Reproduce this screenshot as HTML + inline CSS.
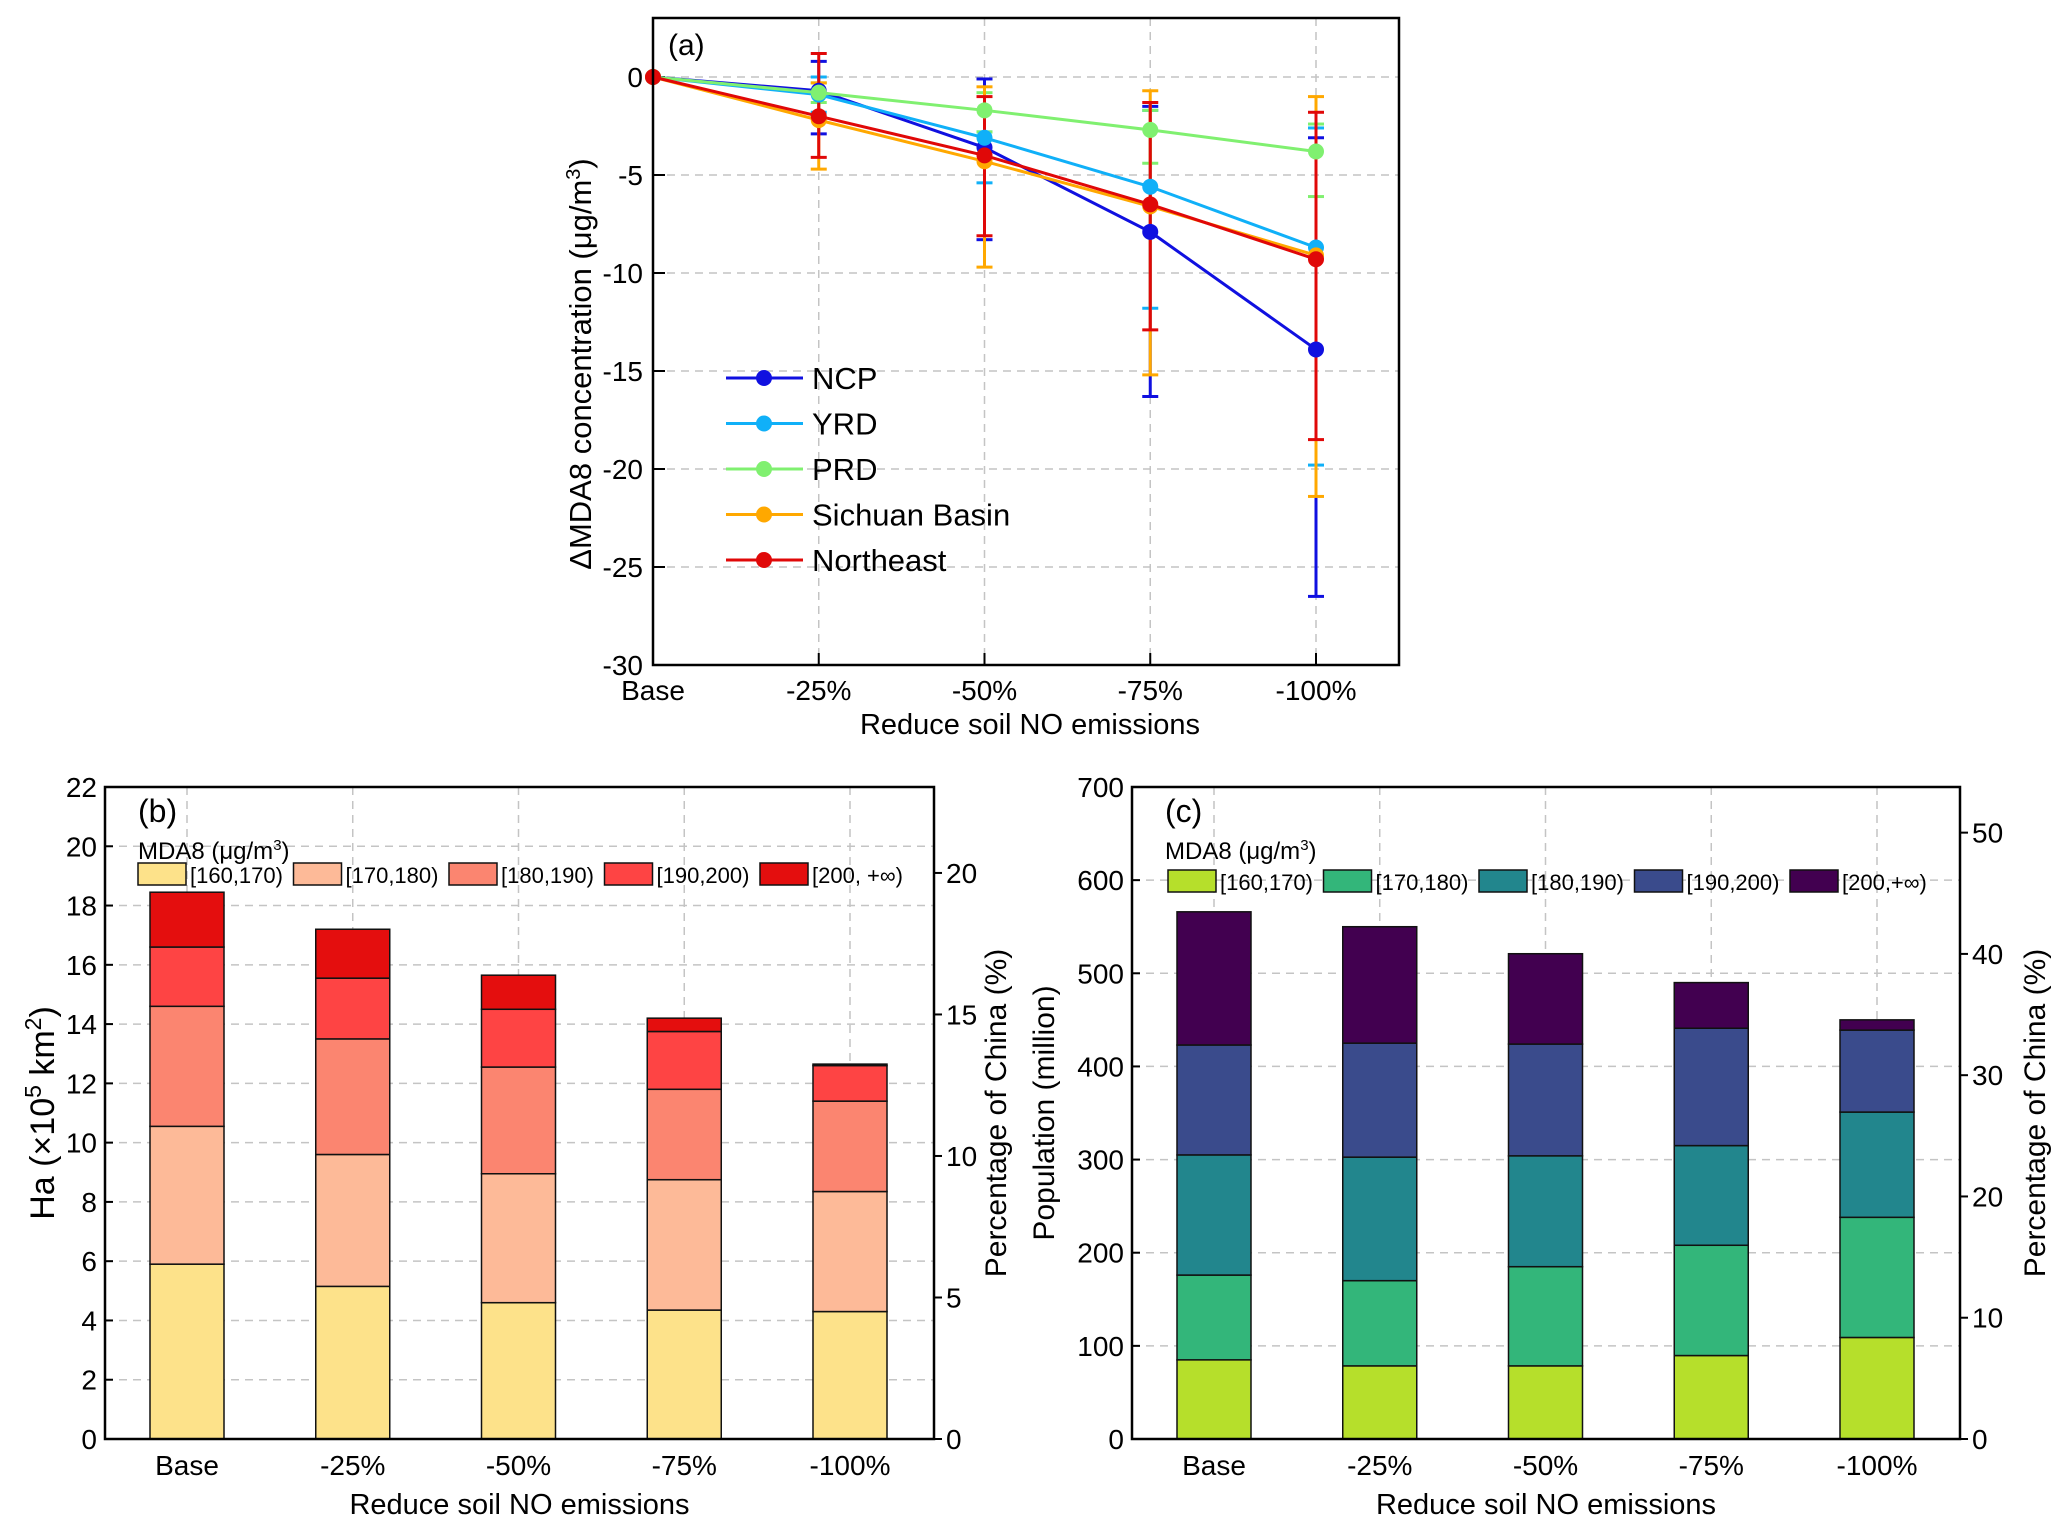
<!DOCTYPE html>
<html><head><meta charset="utf-8"><style>
body{margin:0;background:#fff;}
svg{display:block;font-family:"Liberation Sans",Arial,sans-serif;}
</style></head><body>
<svg id="chart" width="2067" height="1535" viewBox="0 0 2067 1535" xmlns="http://www.w3.org/2000/svg"></svg>
<script>
// ---------- data ----------
const categories = ["Base","-25%","-50%","-75%","-100%"];
const seriesNames = ["NCP","YRD","PRD","Sichuan Basin","Northeast"];
const seriesColors = ["#1010e0","#10b0f8","#80f070","#ffa800","#e00808"];
const ncpValues = [0,-0.7,-3.6,-7.9,-13.9];
const ncpErrTop = [0,0.8,-0.1,-1.5,-3.1];
const ncpErrBot = [0,-2.9,-8.3,-16.3,-26.5];
const yrdValues = [0,-0.9,-3.1,-5.6,-8.7];
const yrdErrTop = [0,0,-2.8,-1.7,-2.6];
const yrdErrBot = [0,-1.8,-5.4,-11.8,-19.8];
const prdValues = [0,-0.8,-1.7,-2.7,-3.8];
const prdErrTop = [0,-0.3,-0.8,-1.7,-2.4];
const prdErrBot = [0,-1.3,-2.8,-4.4,-6.1];
const scbValues = [0,-2.2,-4.3,-6.6,-9.1];
const scbErrTop = [0,-0.3,-0.5,-0.7,-1.0];
const scbErrBot = [0,-4.7,-9.7,-15.2,-21.4];
const neValues = [0,-2.0,-4.0,-6.5,-9.3];
const neErrTop = [0,1.2,-1.0,-1.3,-1.8];
const neErrBot = [0,-4.1,-8.1,-12.9,-18.5];
const aTicks = [0,-5,-10,-15,-20,-25,-30];

const binLabelsB = ["[160,170)","[170,180)","[180,190)","[190,200)","[200, +\u221e)"];
const binLabelsC = ["[160,170)","[170,180)","[180,190)","[190,200)","[200,+\u221e)"];
const colorsB = ["#fde28a","#fdba98","#fb8570","#fe4444","#e40e0e"];
const colorsC = ["#b6df2b","#33b67a","#22868d","#3a4b8c","#420050"];
const haBin1 = [5.9,5.15,4.6,4.35,4.3];
const haBin2 = [10.55,9.6,8.95,8.75,8.35];
const haBin3 = [14.6,13.5,12.55,11.8,11.4];
const haBin4 = [16.6,15.55,14.5,13.75,12.6];
const haBin5 = [18.45,17.2,15.65,14.2,12.65];
const bTicks = [0,2,4,6,8,10,12,14,16,18,20,22];
const bPctTicks = [0,5,10,15,20];
const bPctFactor = 0.955;
const popBin1 = [85,78.5,78.5,89.6,109];
const popBin2 = [176,170,185,208,238];
const popBin3 = [305,302.6,304,315,351];
const popBin4 = [423,425,424,441,439];
const popBin5 = [566,550,521,490,450];
const cTicks = [0,100,200,300,400,500,600,700];
const cPctTicks = [0,10,20,30,40,50];
const cPctFactor = 13.02;

// ---------- helpers ----------
const NS="http://www.w3.org/2000/svg";
const svg=document.getElementById('chart');
function mk(tag,attrs,parent){const e=document.createElementNS(NS,tag);for(const k in attrs)e.setAttribute(k,attrs[k]);(parent||svg).appendChild(e);return e;}
function txt(s,attrs,parent){const e=mk('text',attrs,parent);e.textContent=s;return e;}
const GRID="#c4c4c4";

// ================= Panel (a) =================
const aL=653,aR=1399,aT=18,aB=665,aX0=653,aStep=165.75;
const ax=i=>aX0+i*aStep;
const ay=v=>77+(-v)*19.6;
const gA=mk('g',{});


aTicks.forEach(t=>{
  if(t!==-30){const g=mk('line',{x1:aL,x2:aR,y1:ay(t),y2:ay(t),stroke:GRID,'stroke-width':1.5,'stroke-dasharray':'8,6'},gA);
  }
  mk('line',{x1:aL,x2:aL+12,y1:ay(t),y2:ay(t),stroke:'#000','stroke-width':2},gA);
  const l=txt(String(t),{x:aL-10,y:ay(t)+10,'font-size':28,'text-anchor':'end'},gA);
  
});
categories.forEach((c,i)=>{
  if(i>0){const g=mk('line',{x1:ax(i),x2:ax(i),y1:aT,y2:aB,stroke:GRID,'stroke-width':1.5,'stroke-dasharray':'8,6'},gA);
  }
  mk('line',{x1:ax(i),x2:ax(i),y1:aB,y2:aB-12,stroke:'#000','stroke-width':2},gA);
  const l=txt(c,{x:ax(i),y:aB+35,'font-size':28,'text-anchor':'middle'},gA);
  
});
const aSeries=[[ncpValues,ncpErrTop,ncpErrBot],[yrdValues,yrdErrTop,yrdErrBot],[prdValues,prdErrTop,prdErrBot],[scbValues,scbErrTop,scbErrBot],[neValues,neErrTop,neErrBot]];
aSeries.forEach((s,si)=>{
  s[0].forEach((v,i)=>{
    if(i===0)return;
    const eb=mk('g',{stroke:seriesColors[si],'stroke-width':3},gA);
    
    
    mk('line',{x1:ax(i),x2:ax(i),y1:ay(s[1][i]),y2:ay(s[2][i])},eb);
    mk('line',{x1:ax(i)-8,x2:ax(i)+8,y1:ay(s[1][i]),y2:ay(s[1][i])},eb);
    mk('line',{x1:ax(i)-8,x2:ax(i)+8,y1:ay(s[2][i]),y2:ay(s[2][i])},eb);
  });
});
aSeries.forEach((s,si)=>{
  const pts=s[0].map((v,i)=>ax(i)+','+ay(v)).join(' ');
  const pl=mk('polyline',{points:pts,fill:'none',stroke:seriesColors[si],'stroke-width':3},gA);
  
  
  s[0].forEach((v,i)=>{
    const m=mk('circle',{cx:ax(i),cy:ay(v),r:8,fill:seriesColors[si]},gA);
    
    
  });
});
const fA=mk('rect',{x:aL,y:aT,width:aR-aL,height:aB-aT,fill:'none',stroke:'#000','stroke-width':2.5},gA);

let t=txt('(a)',{x:668,y:55,'font-size':30},gA);

t=txt('Reduce soil NO emissions',{x:1030,y:734,'font-size':29,'text-anchor':'middle'},gA);

t=mk('text',{x:0,y:0,'font-size':31,'text-anchor':'middle',transform:'translate(591,364) rotate(-90)'},gA);
t.innerHTML='\u0394MDA8 concentration (\u03bcg/m<tspan dy="-11" font-size="20">3</tspan><tspan dy="11">)</tspan>';

seriesNames.forEach((n,i)=>{
  const y=378+i*45.5;
  const lg=mk('g',{},gA);
  
  
  mk('line',{x1:726,x2:803,y1:y,y2:y,stroke:seriesColors[i],'stroke-width':3},lg);
  mk('circle',{cx:764,cy:y,r:8,fill:seriesColors[i]},lg);
  txt(n,{x:812,y:y+11,'font-size':31},lg);
});

// ================= stacked bar panels =================
function barPanel(o){
  const g=mk('g',{});
  
  
  const T=787,B=1439;
  const y=v=>B-(v/o.ymax)*(B-T);
  const x=i=>o.x0+i*165.75;
  o.ticks.forEach(tv=>{
    if(tv>0&&tv<o.ymax){const gl=mk('line',{x1:o.L,x2:o.R,y1:y(tv),y2:y(tv),stroke:GRID,'stroke-width':1.5,'stroke-dasharray':'8,6'},g);
    }
    mk('line',{x1:o.L,x2:o.L+8,y1:y(tv),y2:y(tv),stroke:'#000','stroke-width':2},g);
    const l=txt(String(tv),{x:o.L-8,y:y(tv)+10,'font-size':28,'text-anchor':'end'},g);
    
  });
  categories.forEach((c,i)=>{
    const gl=mk('line',{x1:x(i),x2:x(i),y1:T,y2:B,stroke:GRID,'stroke-width':1.5,'stroke-dasharray':'8,6'},g);
    
    const l=txt(c,{x:x(i),y:B+36,'font-size':28,'text-anchor':'middle'},g);
    
  });
  categories.forEach((c,i)=>{
    let prev=0;
    o.bins.forEach((arr,k)=>{
      const top=arr[i];
      const r=mk('rect',{x:x(i)-37,y:y(top),width:74,height:y(prev)-y(top),fill:o.colors[k],stroke:'#111','stroke-width':1.5},g);
      
      
      prev=top;
    });
  });
  o.pctTicks.forEach(p=>{
    const yy=y(p*o.pctFactor);
    mk('line',{x1:o.R,x2:o.R+8,y1:yy,y2:yy,stroke:'#000','stroke-width':2},g);
    const l=txt(String(p),{x:o.R+12,y:yy+10,'font-size':28},g);
    
  });
  const f=mk('rect',{x:o.L,y:T,width:o.R-o.L,height:B-T,fill:'none',stroke:'#000','stroke-width':2.5},g);
  
  let tt=txt(o.label,{x:o.L+33,y:822,'font-size':32},g);
  
  tt=mk('text',{x:o.L+33,y:859,'font-size':24},g);
  tt.innerHTML='MDA8 (\u03bcg/m<tspan dy="-9" font-size="15">3</tspan><tspan dy="9">)</tspan>';
  
  o.binLabels.forEach((b,k)=>{
    const lx=o.L+o.legX+k*155.5;
    const le=mk('g',{},g);
    
    
    mk('rect',{x:lx,y:o.legY,width:48,height:22,fill:o.colors[k],stroke:'#111','stroke-width':1.5},le);
    txt(b,{x:lx+52,y:o.legY+20,'font-size':22},le);
  });
  tt=txt('Reduce soil NO emissions',{x:(o.L+o.R)/2,y:1514,'font-size':29,'text-anchor':'middle'},g);
  
  tt=mk('text',{x:0,y:0,'font-size':o.yTitleSize,'text-anchor':'middle',transform:'translate('+o.yTitleX+',1113) rotate(-90)'},g);
  tt.innerHTML=o.yTitle;
  
  tt=txt('Percentage of China (%)',{x:0,y:0,'font-size':30,'text-anchor':'middle',transform:'translate('+o.rTitleX+',1113) rotate(-90)'},g);
  
}
barPanel({name:'panel-b',label:'(b)',L:105,R:934,x0:187,ymax:22,ticks:bTicks,pctTicks:bPctTicks,pctFactor:bPctFactor,
  bins:[haBin1,haBin2,haBin3,haBin4,haBin5],colors:colorsB,binLabels:binLabelsB,legX:33,legY:863,yTitleSize:34,
  yTitle:'Ha (\u00d710<tspan dy="-13" font-size="23">5</tspan><tspan dy="13"> km</tspan><tspan dy="-13" font-size="23">2</tspan><tspan dy="13">)</tspan>',yTitleX:54,rTitleX:1006});
barPanel({name:'panel-c',label:'(c)',L:1132,R:1960,x0:1214,ymax:700,ticks:cTicks,pctTicks:cPctTicks,pctFactor:cPctFactor,
  bins:[popBin1,popBin2,popBin3,popBin4,popBin5],colors:colorsC,binLabels:binLabelsC,legX:36,legY:870,yTitleSize:30,
  yTitle:'Population (million)',yTitleX:1054,rTitleX:2045});
</script>
</body></html>
